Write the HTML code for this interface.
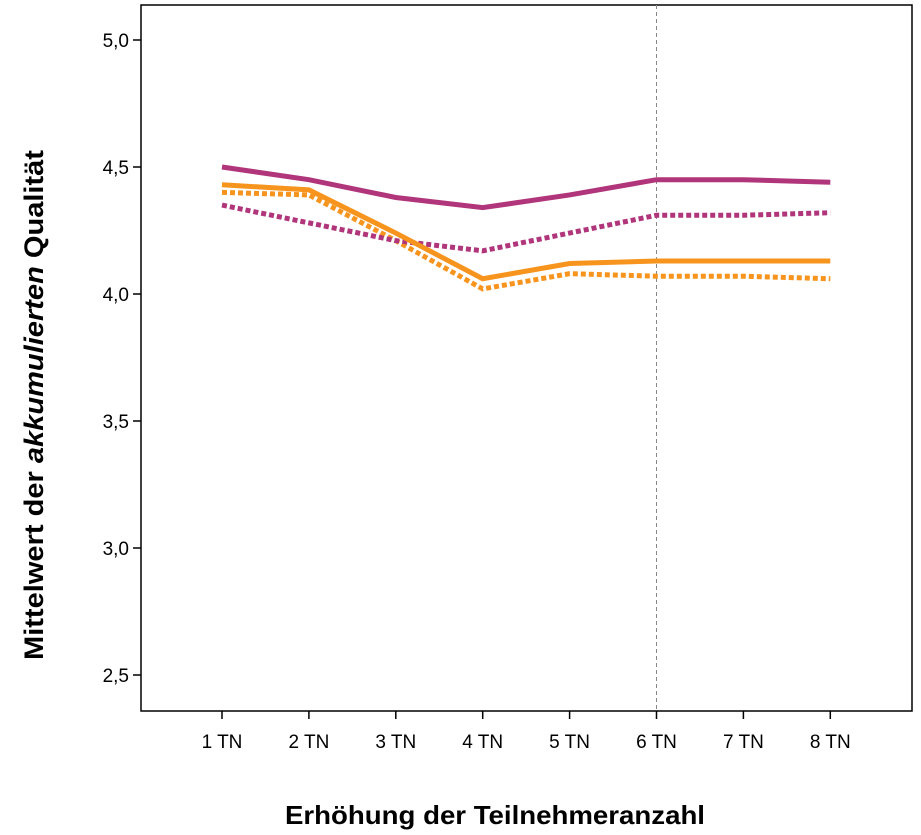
<!DOCTYPE html>
<html><head><meta charset="utf-8"><style>
body{margin:0;background:#fff;width:921px;height:835px;overflow:hidden}
svg{display:block;font-family:"Liberation Sans",Arial,sans-serif}
</style></head><body>
<svg id="chart" width="921" height="835">
<rect x="141" y="5" width="771" height="706" fill="#fff" stroke="#000" stroke-width="1.5"/>
<g id="axes"></g><g id="series"></g>
<text x="495" y="824" text-anchor="middle" font-size="26" font-weight="bold" fill="#000" textLength="420" lengthAdjust="spacingAndGlyphs">Erhöhung der Teilnehmeranzahl</text>
<text transform="translate(43,405) rotate(-90)" text-anchor="middle" font-size="27" font-weight="bold" fill="#000" textLength="510" lengthAdjust="spacingAndGlyphs">Mittelwert der <tspan font-style="italic">akkumulierten</tspan> Qualität</text>
</svg>
<script>
const categories=["1 TN","2 TN","3 TN","4 TN","5 TN","6 TN","7 TN","8 TN"];
const yTicks=[2.5,3.0,3.5,4.0,4.5,5.0];
const yTickLabels=["2,5","3,0","3,5","4,0","4,5","5,0"];
const purpleSolid=[4.50,4.45,4.38,4.34,4.39,4.45,4.45,4.44];
const purpleDotted=[4.35,4.28,4.21,4.17,4.24,4.31,4.31,4.32];
const orangeSolid=[4.43,4.41,4.24,4.06,4.12,4.13,4.13,4.13];
const orangeDotted=[4.40,4.39,4.21,4.02,4.08,4.07,4.07,4.06];
const refLineIndex=5;
const NS="http://www.w3.org/2000/svg";
const x=i=>222+i*86.9;
const y=v=>294-(v-4.0)*254;
const axes=document.getElementById('axes'),ser=document.getElementById('series');
function mk(t,a,p){const e=document.createElementNS(NS,t);for(const k in a)e.setAttribute(k,a[k]);p.appendChild(e);return e;}
yTicks.forEach((v,i)=>{
 const t=mk('line',{x1:133,x2:141,y1:y(v),y2:y(v),stroke:'#000','stroke-width':1.5},axes);
 
 
 const l=mk('text',{x:129,y:y(v)+7,'text-anchor':'end','font-size':19,fill:'#000'},axes);
 l.textContent=yTickLabels[i];
 
 
});
categories.forEach((c,i)=>{
 const t=mk('line',{x1:x(i),x2:x(i),y1:711,y2:719,stroke:'#000','stroke-width':1.5},axes);
 
 
 const l=mk('text',{x:x(i),y:748,'text-anchor':'middle','font-size':19,fill:'#000'},axes);
 l.textContent=c;
 
 
});
const ref=mk('line',{x1:x(refLineIndex),x2:x(refLineIndex),y1:5,y2:711,stroke:'#888','stroke-width':1,'stroke-dasharray':'4,3'},axes);


function draw(vals,color,dash,name){
 const p=mk('polyline',{points:vals.map((v,i)=>x(i)+','+y(v)).join(' '),fill:'none',stroke:color,'stroke-width':5,'stroke-dasharray':dash||'none'},ser);
 
 
}
draw(orangeDotted,'#f7941d','5,3','orange-dotted-line');
draw(purpleDotted,'#b0357a','5,3','purple-dotted-line');
draw(orangeSolid,'#f7941d',null,'orange-solid-line');
draw(purpleSolid,'#b0357a',null,'purple-solid-line');
</script>
</body></html>
